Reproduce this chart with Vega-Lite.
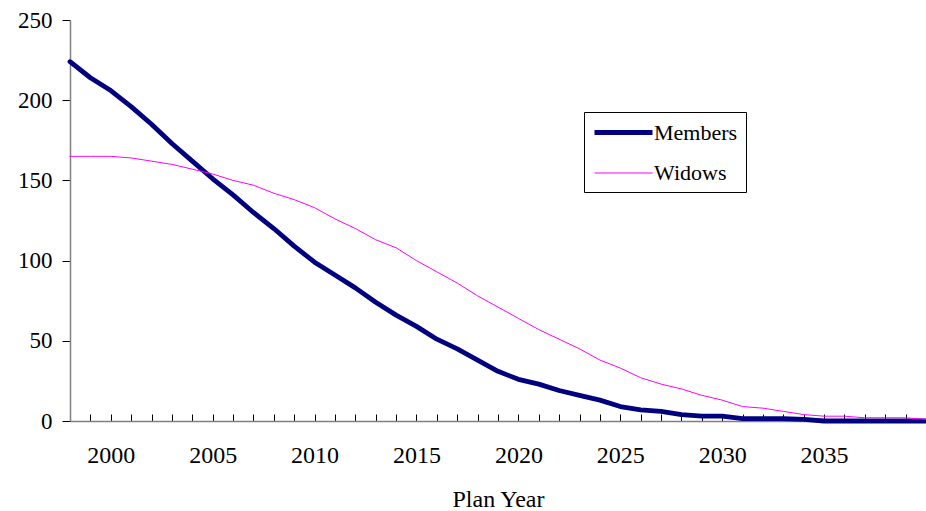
{
  "$schema": "https://vega.github.io/schema/vega-lite/v6.json",
  "width": 856,
  "height": 401,
  "autosize": "none",
  "padding": {"left": 70, "top": 20, "right": 0, "bottom": 90},
  "background": "white",
  "config": {
    "view": {"stroke": null},
    "font": "Times New Roman, Liberation Serif, serif",
    "legend": {
      "orient": "none",
      "legendX": 514,
      "legendY": 92,
      "title": null,
      "strokeColor": "#000000",
      "fillColor": "#ffffff",
      "padding": 8,
      "symbolType": "M-1,0H4.8",
      "symbolSize": 400,
      "labelOffset": 37,
      "labelFontSize": 22,
      "labelFont": "Times New Roman, Liberation Serif, serif",
      "labelColor": "#000000",
      "rowPadding": 18
    }
  },
  "data": {
    "values": [
      {"year": 1998, "series": "Members", "value": 224},
      {"year": 1999, "series": "Members", "value": 214},
      {"year": 2000, "series": "Members", "value": 206},
      {"year": 2001, "series": "Members", "value": 196},
      {"year": 2002, "series": "Members", "value": 185},
      {"year": 2003, "series": "Members", "value": 173},
      {"year": 2004, "series": "Members", "value": 162},
      {"year": 2005, "series": "Members", "value": 151},
      {"year": 2006, "series": "Members", "value": 141},
      {"year": 2007, "series": "Members", "value": 130},
      {"year": 2008, "series": "Members", "value": 120},
      {"year": 2009, "series": "Members", "value": 109},
      {"year": 2010, "series": "Members", "value": 99},
      {"year": 2011, "series": "Members", "value": 91},
      {"year": 2012, "series": "Members", "value": 83},
      {"year": 2013, "series": "Members", "value": 74},
      {"year": 2014, "series": "Members", "value": 66},
      {"year": 2015, "series": "Members", "value": 59},
      {"year": 2016, "series": "Members", "value": 51},
      {"year": 2017, "series": "Members", "value": 45},
      {"year": 2018, "series": "Members", "value": 38},
      {"year": 2019, "series": "Members", "value": 31},
      {"year": 2020, "series": "Members", "value": 26},
      {"year": 2021, "series": "Members", "value": 23},
      {"year": 2022, "series": "Members", "value": 19},
      {"year": 2023, "series": "Members", "value": 16},
      {"year": 2024, "series": "Members", "value": 13},
      {"year": 2025, "series": "Members", "value": 9},
      {"year": 2026, "series": "Members", "value": 7},
      {"year": 2027, "series": "Members", "value": 6},
      {"year": 2028, "series": "Members", "value": 4},
      {"year": 2029, "series": "Members", "value": 3},
      {"year": 2030, "series": "Members", "value": 3},
      {"year": 2031, "series": "Members", "value": 1.5},
      {"year": 2032, "series": "Members", "value": 1.5},
      {"year": 2033, "series": "Members", "value": 1.5},
      {"year": 2034, "series": "Members", "value": 1},
      {"year": 2035, "series": "Members", "value": 0},
      {"year": 2036, "series": "Members", "value": 0},
      {"year": 2037, "series": "Members", "value": 0},
      {"year": 2038, "series": "Members", "value": 0},
      {"year": 2039, "series": "Members", "value": 0},
      {"year": 2040, "series": "Members", "value": 0},
      {"year": 1998, "series": "Widows", "value": 165},
      {"year": 1999, "series": "Widows", "value": 165},
      {"year": 2000, "series": "Widows", "value": 165},
      {"year": 2001, "series": "Widows", "value": 164},
      {"year": 2002, "series": "Widows", "value": 162},
      {"year": 2003, "series": "Widows", "value": 160},
      {"year": 2004, "series": "Widows", "value": 157},
      {"year": 2005, "series": "Widows", "value": 154},
      {"year": 2006, "series": "Widows", "value": 150},
      {"year": 2007, "series": "Widows", "value": 147},
      {"year": 2008, "series": "Widows", "value": 142},
      {"year": 2009, "series": "Widows", "value": 138},
      {"year": 2010, "series": "Widows", "value": 133},
      {"year": 2011, "series": "Widows", "value": 126},
      {"year": 2012, "series": "Widows", "value": 120},
      {"year": 2013, "series": "Widows", "value": 113},
      {"year": 2014, "series": "Widows", "value": 108},
      {"year": 2015, "series": "Widows", "value": 100},
      {"year": 2016, "series": "Widows", "value": 93},
      {"year": 2017, "series": "Widows", "value": 86},
      {"year": 2018, "series": "Widows", "value": 78},
      {"year": 2019, "series": "Widows", "value": 71},
      {"year": 2020, "series": "Widows", "value": 64},
      {"year": 2021, "series": "Widows", "value": 57},
      {"year": 2022, "series": "Widows", "value": 51},
      {"year": 2023, "series": "Widows", "value": 45},
      {"year": 2024, "series": "Widows", "value": 38},
      {"year": 2025, "series": "Widows", "value": 33},
      {"year": 2026, "series": "Widows", "value": 27},
      {"year": 2027, "series": "Widows", "value": 23},
      {"year": 2028, "series": "Widows", "value": 20},
      {"year": 2029, "series": "Widows", "value": 16},
      {"year": 2030, "series": "Widows", "value": 13},
      {"year": 2031, "series": "Widows", "value": 9},
      {"year": 2032, "series": "Widows", "value": 8},
      {"year": 2033, "series": "Widows", "value": 6},
      {"year": 2034, "series": "Widows", "value": 4},
      {"year": 2035, "series": "Widows", "value": 3},
      {"year": 2036, "series": "Widows", "value": 3},
      {"year": 2037, "series": "Widows", "value": 2},
      {"year": 2038, "series": "Widows", "value": 2},
      {"year": 2039, "series": "Widows", "value": 2},
      {"year": 2040, "series": "Widows", "value": 1}
    ]
  },
  "mark": {"type": "line", "strokeJoin": "round", "strokeCap": "round"},
  "encoding": {
    "x": {
      "field": "year",
      "type": "quantitative",
      "scale": {"domain": [1998, 2040], "nice": false, "zero": false},
      "axis": {
        "title": "Plan Year",
        "values": [1998,1999,2000,2001,2002,2003,2004,2005,2006,2007,2008,2009,2010,2011,2012,2013,2014,2015,2016,2017,2018,2019,2020,2021,2022,2023,2024,2025,2026,2027,2028,2029,2030,2031,2032,2033,2034,2035,2036,2037,2038,2039,2040],
        "labelExpr": "(datum.value % 5 == 0 && datum.value < 2040) ? datum.value : ''",
        "grid": false,
        "tickSize": -7,
        "tickColor": "#000000",
        "domainColor": "#808080",
        "domainWidth": 1.5,
        "labelFontSize": 24,
        "labelFont": "Times New Roman, Liberation Serif, serif",
        "labelColor": "#000000",
        "labelPadding": 29,
        "labelFlush": false,
        "labelOverlap": false,
        "titleFontSize": 24,
        "titleFont": "Times New Roman, Liberation Serif, serif",
        "titleFontWeight": "normal",
        "titleColor": "#000000",
        "titlePadding": 20
      }
    },
    "y": {
      "field": "value",
      "type": "quantitative",
      "scale": {"domain": [0, 250], "nice": false},
      "axis": {
        "title": null,
        "values": [0, 50, 100, 150, 200, 250],
        "grid": false,
        "tickSize": 8,
        "tickColor": "#000000",
        "domainColor": "#808080",
        "domainWidth": 1.5,
        "labelFontSize": 23,
        "labelFont": "Times New Roman, Liberation Serif, serif",
        "labelColor": "#000000",
        "labelPadding": 10
      }
    },
    "color": {
      "field": "series",
      "type": "nominal",
      "scale": {"domain": ["Members", "Widows"], "range": ["#000080", "#FF00FF"]}
    },
    "strokeWidth": {
      "field": "series",
      "type": "nominal",
      "scale": {"domain": ["Members", "Widows"], "range": [4.8, 1]}
    }
  }
}
